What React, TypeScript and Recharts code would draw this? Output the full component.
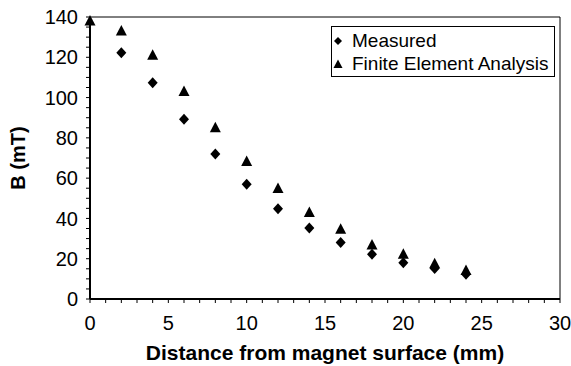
import React from 'react';
import { ScatterChart, Scatter, XAxis, YAxis, ReferenceLine, Legend } from 'recharts';

const measuredX = [2, 4, 6, 8, 10, 12, 14, 16, 18, 20, 22, 24];
const measuredB = [122.3, 107.4, 89.2, 72, 57, 44.8, 35.3, 28, 22.2, 18, 15.2, 12.3];
const feaX = [0, 2, 4, 6, 8, 10, 12, 14, 16, 18, 20, 22, 24];
const feaB = [138, 133, 121, 103, 85, 68.3, 54.8, 42.9, 34.6, 26.8, 22.2, 17.5, 14.2];
const xTicks = Array.from({ length: 31 }, (_, i) => i);
const yTicks = Array.from({ length: 29 }, (_, i) => i * 5);
const seriesNames = ['Measured', 'Finite Element Analysis'];

const measured = measuredX.map((x, i) => ({ x, y: measuredB[i] }));
const fea = feaX.map((x, i) => ({ x, y: feaB[i] }));

const FONT = '"Liberation Sans", Arial, sans-serif';

const Diamond = (props: any) => {
  const { cx, cy } = props;
  if (cx == null || cy == null) return null;
  return <polygon points={`${cx},${cy - 5.5} ${cx + 5},${cy} ${cx},${cy + 5.5} ${cx - 5},${cy}`} fill="#000" />;
};
const Triangle = (props: any) => {
  const { cx, cy } = props;
  if (cx == null || cy == null) return null;
  return <polygon points={`${cx},${cy - 6} ${cx + 5.5},${cy + 4.5} ${cx - 5.5},${cy + 4.5}`} fill="#000" />;
};

const LegendContent = (props: any) => {
  const payload = [...(props.payload || [])].sort(
    (a: any, b: any) => seriesNames.indexOf(a.value) - seriesNames.indexOf(b.value)
  );
  return (
    <div style={{ border: '1px solid #000', background: '#fff', width: 224, height: 51, boxSizing: 'border-box', fontFamily: FONT, fontSize: 19, color: '#000', paddingTop: 2 }}>
      {payload.map((p: any, i: number) => (
        <div key={i} style={{ display: 'flex', alignItems: 'center', height: 23 }}>
          <svg width={20} height={14} style={{ display: 'block' }}>
            {p.value === seriesNames[0] ? (
              <polygon points="6,3 10,7 6,11 2,7" fill="#000" />
            ) : (
              <polygon points="6,2.5 10.5,11 1.5,11" fill="#000" />
            )}
          </svg>
          <span style={{ lineHeight: '23px', whiteSpace: 'nowrap' }}>{p.value}</span>
        </div>
      ))}
    </div>
  );
};

export default function App() {
  return (
    <div style={{ width: 563, height: 358, padding: '8px 0 0 8px', background: '#fff' }}>
      <style>{'body{margin:0;background:#fff}svg.recharts-surface{overflow:visible}'}</style>
      <ScatterChart width={563} height={358} margin={{ top: 9, right: 11, left: 0, bottom: 0 }}>
        <XAxis
          type="number"
          dataKey="x"
          domain={[0, 30]}
          ticks={xTicks}
          interval={0}
          tickFormatter={(v: number) => (v % 5 === 0 ? String(v) : '')}
          height={67}
          axisLine={{ stroke: '#000', strokeWidth: 2 }}
          tickLine={{ stroke: '#000', strokeWidth: 1 }}
          tickSize={4}
          tickMargin={13}
          tick={{ fill: '#000', fontSize: 20, fontFamily: FONT }}
          label={{ value: 'Distance from magnet surface (mm)', position: 'insideBottom', offset: 6.5, style: { fill: '#000', fontSize: 21, fontWeight: 'bold', fontFamily: FONT } }}
        />
        <YAxis
          type="number"
          dataKey="y"
          domain={[0, 140]}
          ticks={yTicks}
          interval={0}
          tickFormatter={(v: number) => (v % 20 === 0 ? String(v) : '')}
          width={82}
          axisLine={{ stroke: '#000', strokeWidth: 2 }}
          tickLine={{ stroke: '#000', strokeWidth: 1 }}
          tickSize={4}
          tickMargin={8}
          tick={{ fill: '#000', fontSize: 20, fontFamily: FONT }}
          label={{ value: 'B (mT)', angle: -90, position: 'insideLeft', offset: 0, dx: 10, style: { fill: '#000', fontSize: 20, fontWeight: 'bold', fontFamily: FONT, textAnchor: 'middle' } }}
        />
        <ReferenceLine y={140} stroke="#000" strokeWidth={1} />
        <ReferenceLine x={30} stroke="#000" strokeWidth={1} />
        <Legend
          content={<LegendContent />}
          wrapperStyle={{ left: 323, top: 18, width: 224 }}
          layout="horizontal"
          verticalAlign="middle"
          align="center"
        />
        <Scatter name="Measured" data={measured} shape={<Diamond />} fill="#000" isAnimationActive={false} legendType="diamond" />
        <Scatter name="Finite Element Analysis" data={fea} shape={<Triangle />} fill="#000" isAnimationActive={false} legendType="triangle" />
      </ScatterChart>
    </div>
  );
}
